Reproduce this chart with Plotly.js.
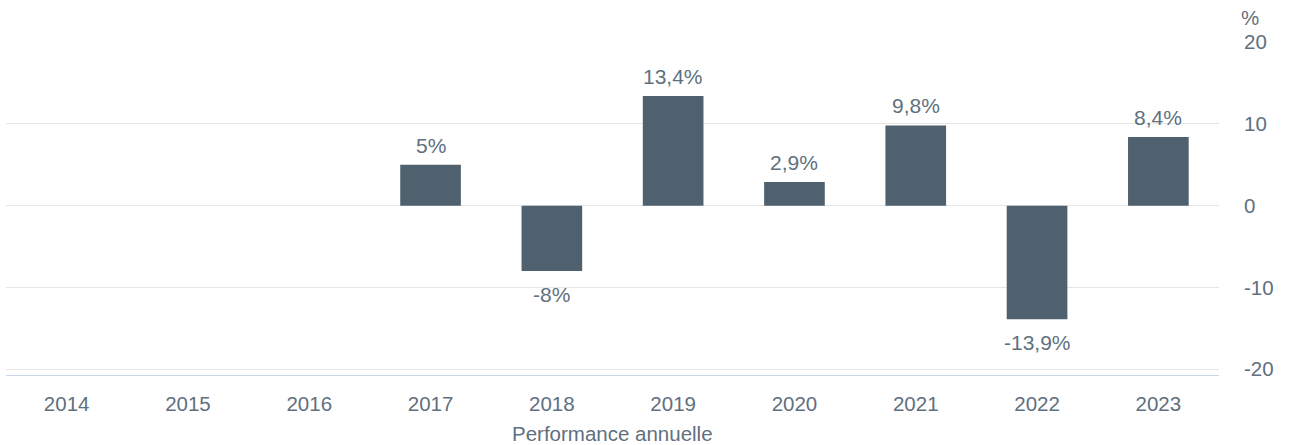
<!DOCTYPE html>
<html>
<head>
<meta charset="utf-8">
<script src="https://cdn.plot.ly/plotly-3.0.1.min.js"></script>
<style>html,body{margin:0;padding:0;background:#fff;}#chart{width:1289px;height:445px;}</style>
</head>
<body>
<div id="chart"></div>
<script>
const years = ["2014","2015","2016","2017","2018","2019","2020","2021","2022","2023"];
const perf = [null, null, null, 5, -8, 13.4, 2.9, 9.8, -13.9, 8.4];
const labels = ["", "", "", "5%", "-8%", "13,4%", "2,9%", "9,8%", "-13,9%", "8,4%"];
const yTicks = [-20, -10, 0, 10, 20];

const textColor = "#5f7080";
const fontFam = "Liberation Sans, Arial, sans-serif";
const trace = {
  type: "bar",
  x: years,
  y: perf,
  marker: {color: "#4f616e"},
  width: 0.5,
  hoverinfo: "none"
};

const annotations = [];
years.forEach((yr, i) => {
  if (perf[i] === null) return;
  const pos = perf[i] >= 0;
  annotations.push({
    xref: "x", yref: "y", x: i, y: perf[i],
    text: labels[i], showarrow: false,
    xanchor: "center", yanchor: "middle",
    yshift: pos ? 19.5 : -23,
    font: {family: fontFam, size: 21, color: textColor}
  });
});
annotations.push({
  xref: "paper", yref: "paper", x: 1, y: 1, xanchor: "left", yanchor: "bottom",
  xshift: 20, yshift: 11, text: "%", showarrow: false,
  font: {family: fontFam, size: 20.5, color: textColor}
});
annotations.push({
  xref: "paper", yref: "paper", x: 0.5, y: 0, xanchor: "center", yanchor: "middle",
  yshift: -58, text: "Performance annuelle", showarrow: false,
  font: {family: fontFam, size: 20.5, color: textColor}
});

const layout = {
  width: 1289, height: 445,
  margin: {l: 6, r: 70, t: 42, b: 70},
  paper_bgcolor: "#ffffff", plot_bgcolor: "#ffffff",
  showlegend: false,
  font: {family: fontFam, size: 20.5, color: textColor},
  xaxis: {
    type: "category",
    categoryorder: "array", categoryarray: years,
    range: [-0.5, years.length - 0.5],
    tickvals: years, ticktext: years,
    showgrid: false, zeroline: false,
    showline: true, linecolor: "#ccd6eb", linewidth: 1,
    ticks: "", ticklabelstandoff: 10,
    tickfont: {size: 20.5, color: textColor}
  },
  yaxis: {
    side: "right",
    range: [-20.7, 20],
    tickvals: yTicks,
    ticktext: yTicks.map(String),
    showgrid: true, gridcolor: "#e6e6e6", gridwidth: 1,
    zeroline: false, showline: false,
    ticks: "", ticklabelstandoff: 24,
    tickfont: {size: 20.5, color: textColor}
  },
  annotations: annotations
};

Plotly.newPlot("chart", [trace], layout, {displayModeBar: false, staticPlot: true});
</script>
</body>
</html>
